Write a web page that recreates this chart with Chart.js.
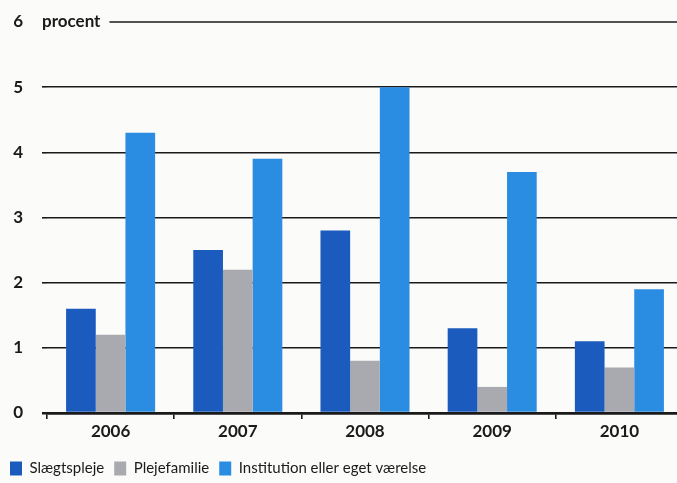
<!DOCTYPE html>
<html><head><meta charset="utf-8">
<script src="https://cdn.jsdelivr.net/npm/chart.js@4/dist/chart.umd.min.js"></script>
<style>html,body{margin:0;padding:0;background:#fbfbfa;overflow:hidden}
#wrap{width:690px;height:483px;position:relative}</style></head>
<body><div id="wrap"><canvas id="c"></canvas></div>
<script>
const years = ['2006', '2007', '2008', '2009', '2010'];
const slaegtspleje = [1.6, 2.5, 2.8, 1.3, 1.1];
const plejefamilie = [1.2, 2.2, 0.8, 0.4, 0.7];
const institution = [4.3, 3.9, 5.0, 3.7, 1.9];
const seriesNames = ['Slægtspleje', 'Plejefamilie', 'Institution eller eget værelse'];
const yTickLabels = ['0', '1', '2', '3', '4', '5', '6'];
const yUnit = 'procent';

const INK = '#1a1a1a';
Chart.defaults.font.family = 'Lato';

const procentLine = {
  id: 'procentLine',
  afterDraw(chart) {
    const y = chart.scales.y;
    const ctx = chart.ctx;
    const py = y.getPixelForValue(6);
    ctx.save();
    ctx.font = 'bold 17px Lato';
    ctx.fillStyle = INK;
    ctx.textBaseline = 'middle';
    ctx.textAlign = 'left';
    const tx = 42;
    ctx.fillText(yUnit, tx, py);
    const w = ctx.measureText(yUnit).width;
    ctx.strokeStyle = INK;
    ctx.lineWidth = 1.6;
    ctx.beginPath();
    ctx.moveTo(tx + w + 9, py);
    ctx.lineTo(chart.width, py);
    ctx.stroke();
    ctx.restore();
  }
};

new Chart(document.getElementById('c'), {
  type: 'bar',
  data: {
    labels: years,
    datasets: [
      { label: seriesNames[0], data: slaegtspleje, backgroundColor: '#1b5bbd' },
      { label: seriesNames[1], data: plejefamilie, backgroundColor: '#a9a9b0' },
      { label: seriesNames[2], data: institution, backgroundColor: '#2b8de2' }
    ]
  },
  options: {
    responsive: true,
    maintainAspectRatio: false,
    animation: false,
    layout: { padding: { left: 0, right: 7, top: 22, bottom: -3 } },
    datasets: { bar: { categoryPercentage: 0.7, barPercentage: 1.0 } },
    plugins: {
      tooltip: { enabled: false },
      legend: {
        position: 'bottom',
        align: 'start',
        labels: {
          boxWidth: 12, boxHeight: 14, padding: 10,
          color: INK, font: { size: 15, family: 'Lato' }
        }
      }
    },
    scales: {
      x: {
        afterFit(s) { s.height = 38; },
        grid: { display: true, drawOnChartArea: false, drawTicks: true, tickLength: 6, color: INK, lineWidth: 1.6, offset: true },
        border: { display: true, color: INK, width: 2.5 },
        ticks: { color: INK, padding: 2, font: { size: 17, weight: 'bold' } }
      },
      y: {
        min: 0, max: 6,
        afterFit(s) { s.width = 47; s.paddingTop = 0; s.paddingBottom = 0; },
        afterBuildTicks(s) { s.ticks = yTickLabels.map((_, i) => ({ value: i })); },
        border: { display: false },
        grid: {
          drawTicks: true, tickLength: 5,
          color: c => (c.tick && c.tick.value === 6) ? 'rgba(0,0,0,0)' : INK,
          lineWidth: c => (c.tick && c.tick.value === 0) ? 2.5 : 1.6
        },
        ticks: {
          crossAlign: 'near', padding: 19, color: INK, font: { size: 17, weight: 'bold' },
          callback: (v) => yTickLabels[v]
        }
      }
    }
  },
  plugins: [procentLine]
});
</script></body></html>
